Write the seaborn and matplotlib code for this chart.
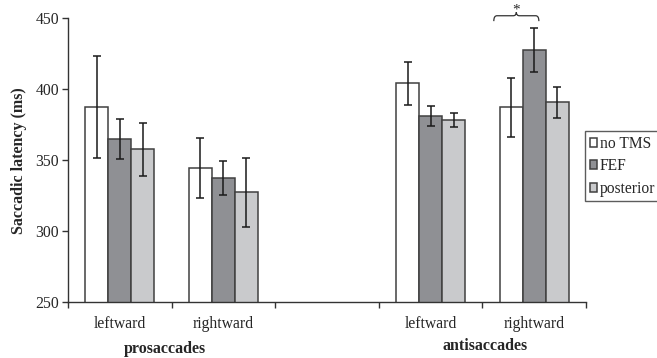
import matplotlib
matplotlib.use("Agg")
import matplotlib.pyplot as plt
from matplotlib.path import Path
from matplotlib.patches import PathPatch
import numpy as np
import pandas as pd
import seaborn as sns

# ---- data ----
categories = ["pro-left", "pro-right", "gap", "anti-left", "anti-right"]
tick_labels = ["leftward", "rightward", "", "leftward", "rightward"]
stimulation = ["no TMS", "FEF", "posterior"]
data_categories = ["pro-left", "pro-right", "anti-left", "anti-right"]
no_tms = [387.8, 344.4, 404.2, 387.3]
fef = [365.2, 337.5, 381.2, 427.7]
posterior = [357.7, 327.5, 378.4, 390.8]
no_tms_err = [36.0, 21.2, 15.0, 21.0]
fef_err = [14.1, 12.0, 7.0, 15.8]
posterior_err = [18.8, 24.2, 5.2, 11.0]
group_labels = ["prosaccades", "antisaccades"]

values = {"no TMS": no_tms, "FEF": fef, "posterior": posterior}
errors = {"no TMS": no_tms_err, "FEF": fef_err, "posterior": posterior_err}
rows = []
for s in stimulation:
    for c, v, e in zip(data_categories, values[s], errors[s]):
        rows.append({"condition": c, "stim": s, "latency": v, "err": e})
df = pd.DataFrame(rows)

sns.set_theme(style="white")
plt.rcParams["font.family"] = ["Liberation Serif", "DejaVu Serif"]
plt.rcParams["font.size"] = 11.3

fig = plt.figure(figsize=(6.57, 3.58), dpi=100)
ax = fig.add_axes([68 / 657, 1 - 302.3 / 358, 518 / 657, 284 / 358])

palette = {"no TMS": "#ffffff", "FEF": "#8f9094", "posterior": "#c9cacc"}
sns.barplot(data=df, x="condition", y="latency", hue="stim", order=categories,
            hue_order=stimulation, palette=palette, saturation=1, width=0.667,
            errorbar=None, edgecolor="#404040", linewidth=1.1, ax=ax, legend=True)

# error bars positioned from the drawn bars
for container, s in zip(ax.containers, stimulation):
    sub = df[df.stim == s].set_index("condition").loc[data_categories]
    xs = [b.get_x() + b.get_width() / 2 for b in container]
    ax.errorbar(xs, sub["latency"].values, yerr=sub["err"].values, fmt="none",
                ecolor="#1a1a1a", elinewidth=1.1, capsize=2.6, capthick=1.1, zorder=5)

ax.set_ylim(250, 450)
ax.set_xlim(-0.5, len(categories) - 0.5)
ax.set_yticks([250, 300, 350, 400, 450])
ax.set_xticks(range(len(categories)))
ax.set_xticklabels(tick_labels)
ax.set_xticks(np.arange(-0.5, len(categories), 1.0), minor=True)
ax.tick_params(axis="x", which="major", length=0, pad=10, labelsize=11.3)
ax.tick_params(axis="x", which="minor", length=4.5, width=1, color="#333333", direction="out", bottom=True)
ax.tick_params(axis="y", length=4.5, width=1, color="#333333", direction="out", left=True, labelsize=11.3, pad=2)
ax.set_xlabel("")
ax.set_ylabel("Saccadic latency (ms)", fontweight="bold", fontsize=11.5, labelpad=6)
for sp in ["top", "right"]:
    ax.spines[sp].set_visible(False)
for sp in ["left", "bottom"]:
    ax.spines[sp].set_color("#333333")
    ax.spines[sp].set_linewidth(1.0)

# group labels
trans = ax.get_xaxis_transform()
ax.text(0.436, -0.165, group_labels[0], transform=trans, ha="center", va="center",
        fontweight="bold", fontsize=11.5)
ax.text(3.525, -0.155, group_labels[1], transform=trans, ha="center", va="center",
        fontweight="bold", fontsize=11.5)

# significance brace over anti-rightward (no TMS vs FEF)
x0, x1 = 3.61, 4.045
xm = (x0 + x1) / 2
yb, yl, yt = 448.0, 451.8, 454.3
d = 0.03
verts = [(x0, yb), (x0, yl), (x0 + d, yl),
         (xm - d, yl), (xm, yl), (xm, yt),
         (xm, yl), (xm + d, yl), (x1 - d, yl),
         (x1, yl), (x1, yb)]
codes = [Path.MOVETO, Path.CURVE3, Path.CURVE3,
         Path.LINETO, Path.CURVE3, Path.CURVE3,
         Path.CURVE3, Path.CURVE3, Path.LINETO,
         Path.CURVE3, Path.CURVE3]
ax.add_patch(PathPatch(Path(verts, codes), fill=False, edgecolor="#333333",
                       linewidth=0.9, clip_on=False))
ax.text(xm, 456.0, "*", ha="center", va="center", fontsize=11, clip_on=False)

# legend
handles, labels = ax.get_legend_handles_labels()
ax.legend_.remove()
leg = fig.legend(handles, labels, loc="upper left",
                 bbox_to_anchor=(585 / 657, 1 - 131 / 358), frameon=True,
                 fancybox=False, edgecolor="#333333", fontsize=11.2,
                 handlelength=0.5, handleheight=0.5, handletextpad=0.15,
                 labelspacing=0.42, borderpad=0.3, borderaxespad=0)
leg.get_frame().set_linewidth(1.0)

fig.savefig("out.png", dpi=100)
